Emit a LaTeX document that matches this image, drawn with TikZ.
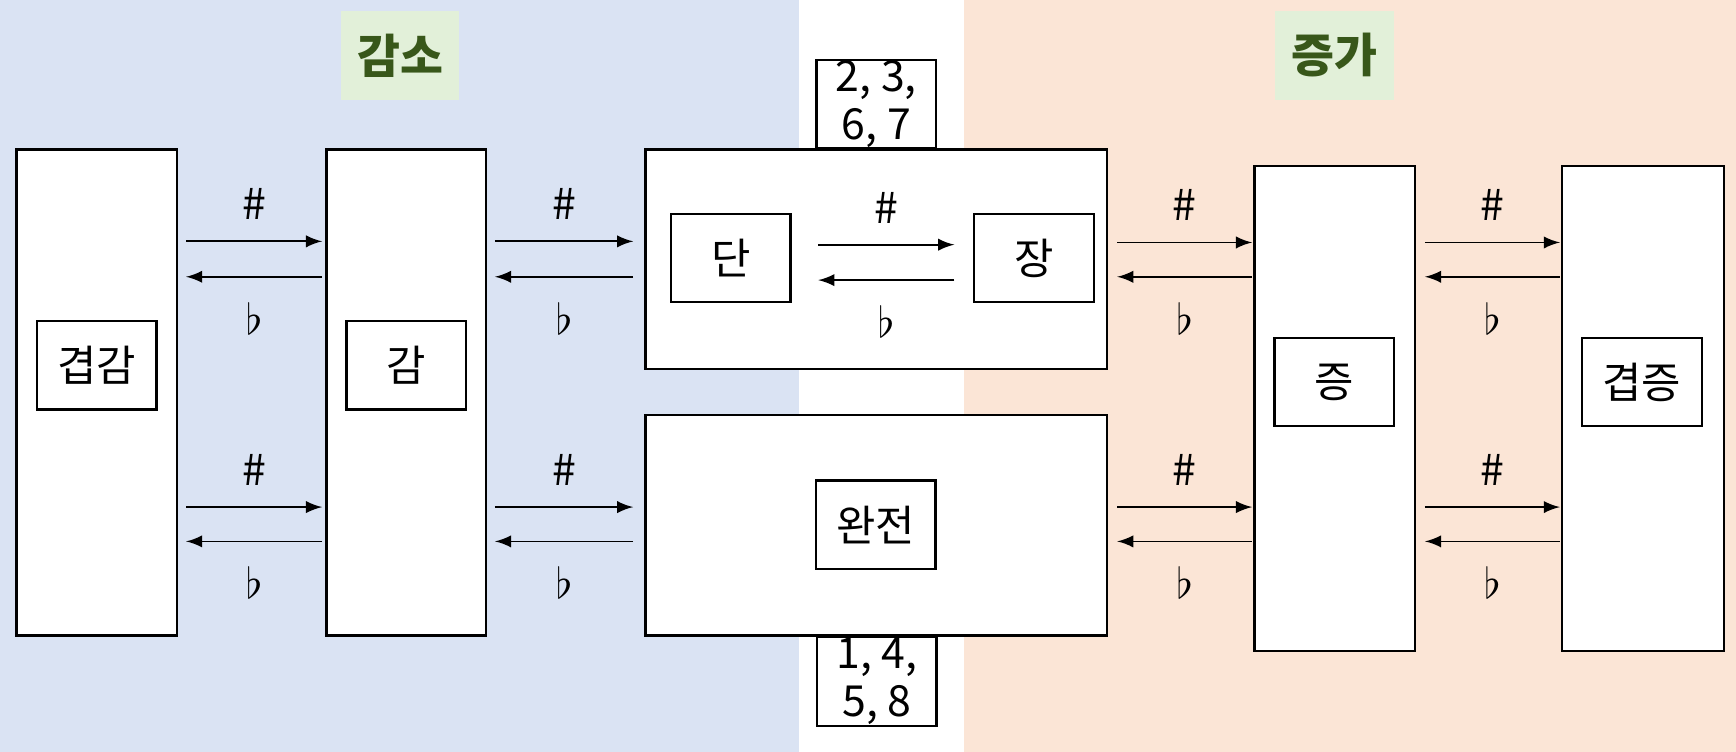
\documentclass[tikz,border=0pt]{standalone}
\usepackage{fontspec}
\setmainfont{Noto Sans CJK KR}
\usetikzlibrary{positioning,calc,arrows}
\definecolor{bgblue}{HTML}{DAE3F3}
\definecolor{bgorange}{HTML}{FBE5D6}
\definecolor{tagfill}{HTML}{E2F0D9}
\definecolor{tagtext}{HTML}{38571A}
\begin{document}
\begin{tikzpicture}[font=\fontsize{11}{13}\selectfont,
	outer_box/.style={draw,fill=white,line width=0.6pt,inner sep=0pt},
	inner_box/.style={draw,fill=white,line width=0.6pt,minimum width=1.08cm,minimum height=0.8cm,inner sep=0pt},
	tag/.style={fill=tagfill,text=tagtext,font=\fontsize{12}{14}\selectfont\bfseries,minimum width=1.07cm,minimum height=0.8cm},
	num_box/.style={inner_box,align=center,font=\fontsize{11}{12.5}\selectfont},
	arr/.style={-latex,line width=0.45pt}]
	\useasboundingbox (0,0) rectangle (15.68,-6.79);
	% backgrounds
	\fill[bgblue] (0,0) rectangle (7.22,-6.79);
	\fill[bgorange] (8.71,0) rectangle (15.68,-6.79);
	\node[tag] (dec) at (3.615,-0.5) {감소};
	\node[tag] (inc) at (12.055,-0.5) {증가};
	
	% outer boxes
	\node[outer_box,minimum width=1.45cm,minimum height=4.39cm] (gg) at (0.875,-3.545) {};
	\node[outer_box,minimum width=1.44cm,minimum height=4.39cm] (g) at (3.67,-3.545) {};
	\node[outer_box,minimum width=4.17cm,minimum height=1.98cm] (top) at (7.915,-2.34) {};
	\node[outer_box,minimum width=4.17cm,minimum height=1.99cm] (perf) at (7.915,-4.745) {};
	\node[outer_box,minimum width=1.45cm,minimum height=4.38cm] (j) at (12.055,-3.69) {};
	\node[outer_box,minimum width=1.46cm,minimum height=4.38cm] (gj) at (14.84,-3.69) {};
	
	% inner boxes
	\node[inner_box] (ggin) at (0.875,-3.30) {겹감};
	\node[inner_box] (gin) at (3.67,-3.30) {감};
	\node[inner_box] (dan) at (6.60,-2.33) {단};
	\node[inner_box] (jang) at (9.34,-2.33) {장};
	\node[inner_box] (perfin) at (7.91,-4.74) {완전};
	\node[inner_box] (jin) at (12.05,-3.45) {증};
	\node[inner_box] (gjin) at (14.83,-3.45) {겹증};
	\node[num_box] (topnum) at (7.915,-0.94) {2, 3,\\6, 7};
	\node[num_box] (botnum) at (7.92,-6.155) {1, 4,\\5, 8};
	
	% arrows
	\foreach \a/\b/\yr/\yl/\sa/\sb in {gg/g/2.18/2.50/0.07/0.03, gg/g/4.58/4.89/0.07/0.03,
		g/top/2.18/2.50/0.07/0.1, g/perf/4.58/4.89/0.07/0.1, dan/jang/2.21/2.53/0.24/0.17,
		top/j/2.19/2.50/0.08/0.01, perf/j/4.58/4.89/0.08/0.01, j/gj/2.19/2.50/0.08/0.01, j/gj/4.58/4.89/0.08/0.01}{
		\draw[arr] ([xshift=\sa cm]\a.east |- 0,-\yr) -- node[above=2pt] {\#} ([xshift=-\sb cm]\b.west |- 0,-\yr);
		\draw[arr] ([xshift=-\sb cm]\b.west |- 0,-\yl) -- node[below=3pt] {$\flat$} ([xshift=\sa cm]\a.east |- 0,-\yl);
	}
\end{tikzpicture}
\end{document}
